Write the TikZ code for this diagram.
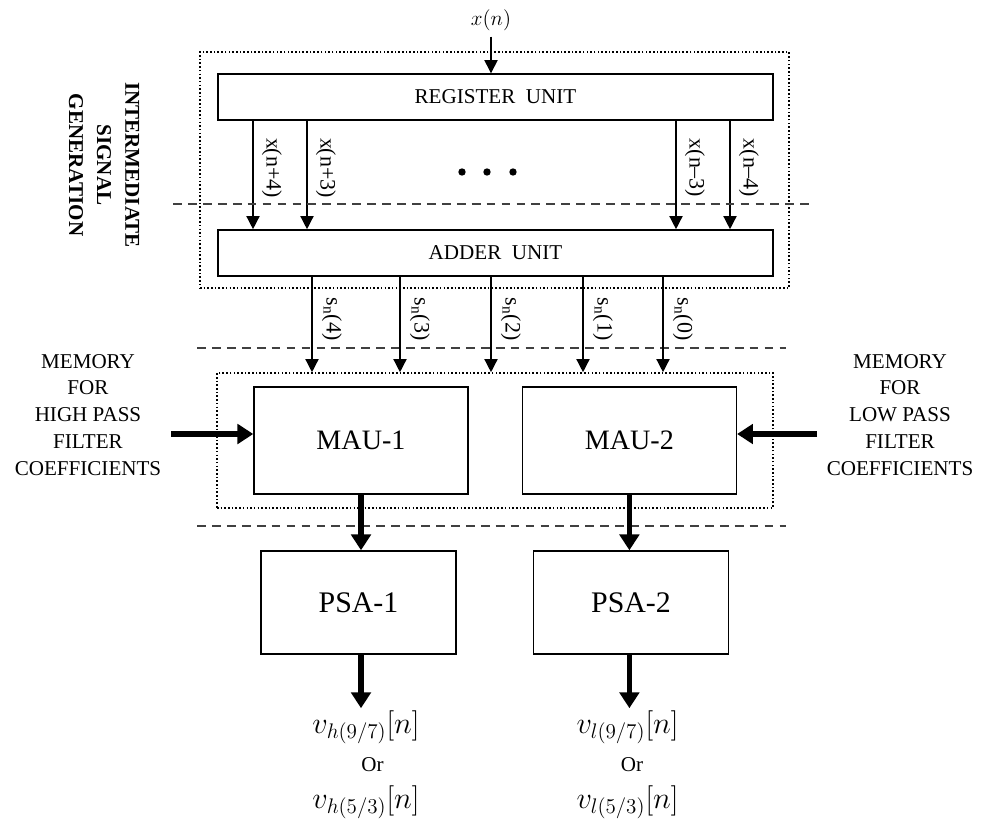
\documentclass[tikz,border=0pt]{standalone}
\usepackage{fontspec}
\setmainfont{Liberation Serif}
\usetikzlibrary{arrows.meta,positioning}

\begin{document}
\begin{tikzpicture}[
    node distance=1cm,
    unit/.style={rectangle, draw, line width=0.8pt, minimum width=11.1cm,
                 minimum height=0.92cm, inner sep=0pt,
                 font=\fontsize{12}{14}\selectfont},
    mau/.style={rectangle, draw, line width=0.8pt, minimum width=4.28cm,
                minimum height=2.14cm, inner sep=0pt,
                font=\fontsize{16}{19}\selectfont},
    psa/.style={mau, minimum width=3.9cm, minimum height=2.06cm,
                font=\fontsize{17}{20}\selectfont},
    grp/.style={rectangle, draw, line width=0.9pt,
                dash pattern=on 0.9pt off 1.2pt, inner sep=0pt},
    cut/.style={line width=0.9pt, draw=black!75, dash pattern=on 5pt off 3.5pt},
    sig/.style={-{Triangle[length=7.5pt,width=7.5pt]}, line width=0.8pt},
    bus/.style={-{Triangle[length=9pt,width=11pt]}, line width=3pt},
    tap/.style={rotate=-90, inner sep=0pt, font=\fontsize{12.5}{14}\selectfont},
    memo/.style={align=center, font=\fontsize{12}{15.3}\selectfont},
    outv/.style={inner sep=1pt, font=\fontsize{18}{20}\selectfont}
]
  \useasboundingbox (0,0) rectangle (19.78,-16.4);

  % Intermediate signal generation
  \node[grp, minimum width=11.78cm, minimum height=4.72cm] (isg) at (9.89,-3.40) {};
  \node[unit] (reg) at (9.91,-1.94) {REGISTER\ \ UNIT};
  \node[unit, below=2.17cm of reg] (add) {ADDER\ \ UNIT};
  \node[font=\fontsize{13}{15}\selectfont] (xn) at (9.82,-0.40) {$x(n)$};
  \draw[sig] (xn) -- (xn |- reg.north);

  \foreach \x/\t [count=\i] in {5.06/x(n+4), 6.14/x(n+3), 13.52/x(n--3), 14.60/x(n--4)} {
    \draw[sig] (\x,0 |- reg.south) -- (\x,0 |- add.north);
    \node[tap] (tap\i) at (\x+0.38,-3.36) {\t};
  }
  \foreach \d in {9.24,9.74,10.26}
    \fill (\d,-3.44) circle (2.1pt);

  \node[rotate=-90, align=center, font=\bfseries\fontsize{12}{16}\selectfont]
    (isglbl) at (2.08,-3.30) {INTERMEDIATE\\SIGNAL\\GENERATION};

  % Stage separators
  \draw[cut] (3.46,-4.08) -- (16.3,-4.08);
  \draw[cut] (3.94,-6.96) -- (15.72,-6.96);
  \draw[cut] (3.94,-10.52) -- (15.72,-10.52);

  % Multiply-accumulate units
  \node[grp, minimum width=11.12cm, minimum height=2.7cm] (core) at (9.90,-8.81) {};
  \node[mau] (mau1) at (7.22,-8.81) {MAU-1};
  \node[mau, right=1.06cm of mau1] (mau2) {MAU-2};

  \foreach \x/\t [count=\i] in {6.24/4, 8.00/3, 9.82/2, 11.66/1, 13.26/0} {
    \draw[sig] (\x,0 |- add.south) -- (\x,0 |- core.north);
    \node[tap] (sn\i) at (\x+0.4,-6.38) {s\textsubscript{n}(\t)};
  }

  \node[memo] (memh) at (1.76,-8.3) {MEMORY\\FOR\\HIGH PASS\\FILTER\\COEFFICIENTS};
  \node[memo] (meml) at (18.0,-8.3) {MEMORY\\FOR\\LOW PASS\\FILTER\\COEFFICIENTS};
  \coordinate (hpf) at (3.42,-8.68);
  \coordinate (lpf) at (16.34,-8.68);
  \draw[bus] (hpf) -- (hpf -| mau1.west);
  \draw[bus] (lpf) -- (lpf -| mau2.east);

  % Partial sum accumulators and outputs
  \node[psa] (psa1) at (7.17,-12.05) {PSA-1};
  \node[psa] (psa2) at (12.62,-12.05) {PSA-2};
  \draw[bus] (mau1) -- (mau1 |- psa1.north);
  \draw[bus] (mau2) -- (mau2 |- psa2.north);

  \node[outv] (vh1) at (7.32,-14.54) {$v_{h(9/7)}[n]$};
  \node[memo] (or1) at (7.45,-15.3) {Or};
  \node[outv] (vh2) at (7.32,-16.04) {$v_{h(5/3)}[n]$};
  \node[outv] (vl1) at (12.55,-14.54) {$v_{l(9/7)}[n]$};
  \node[memo] (or2) at (12.64,-15.3) {Or};
  \node[outv] (vl2) at (12.55,-16.04) {$v_{l(5/3)}[n]$};
  \draw[bus] (psa1.south -| mau1) -- (vh1.north -| mau1);
  \draw[bus] (psa2.south -| mau2) -- (vl1.north -| mau2);

\end{tikzpicture}
\end{document}
